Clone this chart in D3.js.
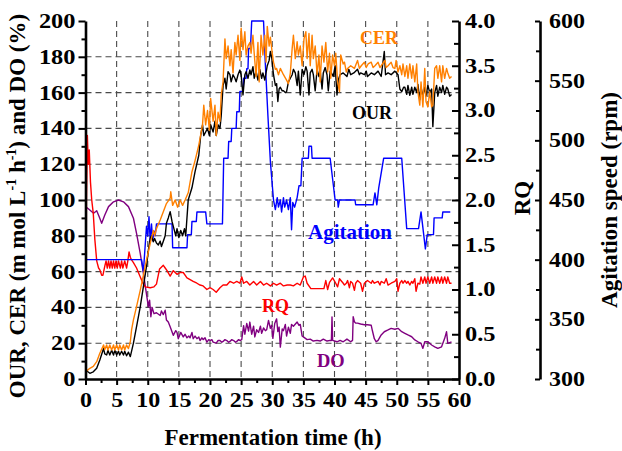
<!DOCTYPE html>
<html>
<head>
<meta charset="utf-8">
<script src="https://cdn.jsdelivr.net/npm/d3@7"></script>
<style>
  html, body { margin: 0; padding: 0; background: #fff; }
  svg { display: block; }
  text { font-family: "Liberation Serif", "Times New Roman", serif; font-weight: bold; }
</style>
</head>
<body>
<svg id="chart" width="622" height="451"></svg>
<script>
// Fermentation time (h) vs. value, one array per measured series
const cerPoints = [[0.0,4],[0.7,6],[1.25,7],[1.8,9.7],[2.3,14.4],[2.9,19],[3.1,16.5],[3.4,19],[3.6,16.2],[3.9,19],[4.2,16.2],[4.5,19],[4.7,16.2],[5.0,19],[5.3,16.2],[5.5,19],[5.8,16.2],[6.1,19],[6.3,16.2],[6.6,19],[6.9,17],[7.2,20.8],[7.4,27.4],[7.7,33],[8.2,40.4],[8.8,49.7],[9.3,58],[9.8,66.5],[10.4,75.8],[10.9,83],[11.1,80],[11.4,84],[12.0,88.8],[12.5,93.5],[13.0,98],[13.6,101],[13.7,104.6],[14.0,97],[14.4,100],[14.8,96],[15.2,100],[15.6,97],[16.0,100],[16.5,104],[17.1,115.8],[17.6,122],[18.2,130.7],[18.8,142],[19.0,153],[19.3,142],[19.6,150],[19.9,139],[20.1,156.8],[20.5,144],[20.8,153],[21.0,136],[21.3,149],[21.6,144],[21.8,158.7],[22.1,166],[22.4,190],[22.6,179],[22.9,186],[23.2,175],[23.4,184],[23.7,171],[24.0,188],[24.2,181],[24.5,192],[24.8,178],[25.0,196],[25.3,184],[25.6,194],[25.8,181],[26.1,186],[26.4,188],[26.6,182],[26.9,192],[27.1,182],[27.4,169],[27.7,188],[27.9,166],[28.2,192],[28.5,181],[28.8,192],[29.0,177],[29.2,197],[29.5,186],[29.7,191],[30.0,182],[30.2,177],[30.5,173],[30.7,173.5],[31.0,170],[31.3,173.5],[31.8,170],[32.3,167],[32.6,165],[32.9,170.8],[33.2,184.7],[33.4,192],[33.7,179],[34.0,188.4],[34.2,181],[34.5,186],[34.8,175],[35.1,190],[35.4,194],[35.6,179],[35.9,193],[36.1,175],[36.4,192],[36.6,179],[36.9,186],[37.2,170],[37.5,181],[37.7,166],[38.0,186],[38.3,177],[38.6,188],[38.9,171.5],[39.2,182],[39.4,168],[39.7,181],[40.0,175],[40.2,182],[40.5,166],[40.8,160.5],[41.0,181],[41.4,176],[41.6,177],[41.9,171.5],[42.1,173.5],[42.6,175],[43.2,173.5],[43.7,178],[44.0,173.5],[44.3,175],[44.8,177],[45.1,174],[45.4,176],[45.9,177],[46.2,174],[46.5,175],[47.0,177],[47.3,174],[47.5,175],[48.1,178],[48.3,174],[48.6,175],[49.1,177],[49.4,174],[49.7,173.5],[49.9,178],[50.2,171.5],[50.5,175],[50.8,170],[51.0,176],[51.3,169],[51.6,175],[51.8,168],[52.1,176],[52.4,168],[52.6,175],[52.9,166],[53.2,176],[53.4,160.5],[53.7,153],[53.9,166],[54.2,152],[54.5,173.5],[54.7,155],[55.0,152],[55.3,160.5],[55.6,152],[55.8,153],[56.1,173.5],[56.4,175],[56.6,168],[56.9,175],[57.2,166],[57.4,175],[57.7,168],[58.0,173.5],[58.2,171],[58.5,168],[58.8,169]];

const ourPoints = [[0,5],[0.7,3.2],[1.25,4],[1.8,6],[2.3,10.6],[2.9,17],[3.1,14],[3.4,13.4],[3.6,16],[3.9,13.4],[4.2,16],[4.5,13.4],[4.7,16],[5.0,13.4],[5.3,15.5],[5.5,13.4],[5.8,15.5],[6.1,13.4],[6.3,15.5],[6.6,13],[6.9,15],[7.2,12.5],[7.7,20],[8.2,29.2],[8.8,40.4],[9.3,51.6],[9.8,63],[10.1,72],[10.4,78.6],[10.6,80],[10.9,76.7],[11.1,78.5],[11.4,76],[11.7,74.9],[12.0,77],[12.2,74],[12.5,77],[12.8,80],[13.0,87],[13.3,90],[13.6,93.5],[13.9,88],[14.2,84],[14.5,80],[14.7,84],[15.0,79],[15.3,83],[15.6,80],[15.9,84],[16.1,80],[16.5,100],[17.1,106.8],[17.6,115.8],[18.2,125],[18.5,136],[18.8,142],[19.0,136],[19.3,138],[19.6,140],[19.9,136],[20.1,142],[20.5,138],[20.8,144],[21.0,136],[21.3,142],[21.6,140],[21.8,147],[22.1,164],[22.4,168],[22.6,162],[22.9,171.7],[23.2,170],[23.4,166],[23.7,170],[24.0,168],[24.2,166],[24.5,170],[24.8,172.6],[25.0,170],[25.3,158.7],[25.6,170],[25.8,171.7],[26.1,168],[26.4,172.6],[26.6,170],[26.9,174.5],[27.1,168],[27.4,172],[27.7,167],[28.0,173],[28.3,168],[28.5,171],[28.8,167],[29.2,175],[29.5,178],[29.7,183],[29.9,180],[30.2,170],[30.5,164],[30.7,165],[30.9,155],[31.1,162],[31.3,163],[31.6,161],[31.8,161],[32.1,160],[32.3,160.5],[32.6,166],[32.9,168],[33.2,170],[33.4,173],[33.7,171],[34.0,164],[34.2,172],[34.5,158.7],[34.8,173],[35.1,170],[35.4,174.5],[35.6,172],[35.9,158.7],[36.1,171],[36.4,173],[36.6,170],[36.9,161],[37.2,173],[37.5,169],[37.7,172],[38.0,162],[38.2,171],[38.5,174],[38.8,170],[39.0,161],[39.3,172],[39.5,171],[39.8,169],[40.1,175],[40.4,158.7],[40.6,167],[40.9,170],[41.4,171],[42.0,169],[42.3,173],[42.6,170],[43.1,171],[43.7,173],[44.0,170],[44.2,171],[44.8,170],[45.1,172],[45.3,169],[45.9,171],[46.4,170],[47.0,172],[47.5,169],[48.0,183],[48.2,170],[48.6,171],[49.1,170],[49.7,172],[50.2,170],[50.5,162],[50.8,160.5],[51.1,163],[51.3,163],[51.6,159],[51.8,164],[52.1,158.5],[52.4,163],[52.6,159],[52.9,163],[53.2,160],[53.4,164.6],[53.7,156],[53.9,163],[54.2,158],[54.5,163],[54.7,158],[55.0,164],[55.3,160],[55.6,162],[55.8,141],[56.1,160],[56.4,164],[56.6,158],[56.9,163],[57.2,160],[57.4,164],[57.7,159],[58.0,163],[58.2,162],[58.5,158],[58.8,159]];

// respiratory quotient (dimensionless)
const rqPoints = [[0.05,0],[0.15,2.0],[0.3,2.72],[0.45,2.4],[0.6,2.56],[0.8,2.2],[1.0,2.0],[1.25,1.85],[1.5,1.56],[1.8,1.32],[2.1,1.24],[2.3,1.22],[2.6,1.16],[2.8,1.16],[3.1,1.26],[3.3,1.32],[3.5,1.24],[3.7,1.32],[3.9,1.24],[4.1,1.32],[4.3,1.24],[4.5,1.32],[4.7,1.24],[4.9,1.32],[5.1,1.24],[5.3,1.32],[5.6,1.24],[5.8,1.32],[6.0,1.24],[6.3,1.32],[6.6,1.24],[6.8,1.32],[7.0,1.42],[7.2,1.36],[7.4,1.33],[7.7,1.30],[8.2,1.24],[8.8,1.14],[9.3,1.06],[9.6,1.03],[10.4,1.02],[11.0,1.03],[11.4,1.06],[11.9,1.23],[12.5,1.27],[12.8,1.24],[13.1,1.21],[13.6,1.15],[14.1,1.21],[14.7,1.17],[15.2,1.19],[15.7,1.19],[16.3,1.13],[16.8,1.11],[17.3,1.09],[17.9,1.07],[18.4,1.05],[18.9,1.04],[19.5,1.00],[20.0,1.02],[20.5,1.00],[21.0,0.97],[21.6,1.02],[22.1,1.05],[22.7,1.05],[23.2,1.09],[23.8,1.07],[24.3,1.09],[24.8,1.07],[25.1,1.14],[25.4,1.07],[25.9,1.09],[26.4,1.05],[27.0,1.09],[27.5,1.05],[28.1,1.09],[28.6,1.05],[29.1,1.07],[29.7,1.04],[30.2,1.07],[30.7,1.05],[31.3,1.07],[31.8,1.04],[32.4,1.05],[32.9,1.05],[33.4,1.04],[34.0,1.07],[34.5,1.05],[35.0,1.14],[35.3,1.15],[35.6,1.07],[36.2,1.01],[38.3,1.01],[38.6,1.10],[38.9,1.00],[39.2,1.08],[39.7,1.13],[40.2,1.07],[40.5,1.03],[40.8,1.12],[41.4,1.07],[41.6,1.05],[41.9,1.07],[42.1,1.10],[42.4,1.02],[42.6,1.09],[42.9,1.07],[43.2,0.99],[43.4,1.07],[43.7,1.10],[44.2,1.07],[44.5,0.98],[44.8,1.07],[45.3,1.10],[45.9,1.07],[46.1,1.10],[46.4,1.07],[47.0,1.09],[47.3,1.05],[47.5,1.09],[48.0,1.07],[48.3,1.12],[48.6,1.05],[49.1,1.07],[49.7,1.09],[50.0,1.12],[50.2,0.98],[50.5,1.07],[50.8,1.10],[51.0,1.07],[51.3,1.10],[51.6,1.07],[51.8,1.09],[52.1,1.05],[52.4,1.09],[52.6,1.07],[52.9,1.12],[53.1,0.98],[53.4,1.07],[53.7,1.06],[53.9,1.14],[54.2,1.07],[54.5,1.14],[54.7,1.07],[55.0,1.14],[55.3,1.07],[55.6,1.14],[55.8,1.07],[56.1,1.14],[56.4,1.07],[56.6,1.14],[56.9,1.07],[57.2,1.14],[57.4,1.07],[57.7,1.14],[58.0,1.07],[58.2,1.14],[58.5,1.07],[58.8,1.07]];

// dissolved oxygen (%)
const doPoints = [[0.1,96],[0.5,95],[1.3,92.6],[1.8,94],[2.2,90.7],[2.6,87],[3.1,91.6],[3.7,96.3],[4.5,99],[5.3,100],[6.1,99],[6.9,96.3],[7.7,89.8],[8.2,81.4],[8.8,70],[9.3,59],[9.7,49.7],[10.1,40.4],[10.3,44],[10.5,34.8],[10.7,40],[11.0,36.5],[11.4,37],[12.0,35.5],[12.2,38],[12.5,36],[12.8,38.4],[13.0,33],[13.3,31.8],[13.6,29.2],[14.1,24.4],[14.5,27],[14.7,26],[14.9,22.5],[15.3,26],[15.7,23.5],[16.0,25],[16.3,23],[16.6,24],[16.8,23],[17.1,26],[17.3,22.5],[17.6,24],[17.9,22.5],[18.2,23.5],[18.4,21.5],[18.7,23],[18.9,22],[19.2,23],[19.5,20.6],[19.8,22],[20.0,21.5],[20.3,22],[20.5,20.6],[21.0,20],[21.3,21.5],[21.6,21.5],[21.9,20.5],[22.1,21],[22.4,22],[22.7,21.5],[23.0,20.5],[23.2,21],[23.5,22],[23.8,21.5],[24.1,20.5],[24.3,21],[24.6,22],[24.8,21.5],[25.1,22],[25.4,29.8],[25.6,25],[25.9,31],[26.2,26.8],[26.4,31.8],[26.7,25],[27.0,29.5],[27.2,23.5],[27.5,27.5],[27.8,26],[28.1,29.5],[28.3,25.5],[28.6,28.5],[28.9,27],[29.1,27.5],[29.4,32.7],[29.7,28.3],[29.9,30],[30.1,22.7],[30.4,31],[30.7,33.6],[30.9,26.5],[31.1,29],[31.3,17.8],[31.6,28],[31.8,27],[32.1,30.5],[32.3,24],[32.6,29],[32.9,25.5],[33.1,30.5],[33.4,29.5],[34.0,31.8],[34.3,30],[34.5,30.5],[34.8,24],[35.0,23.5],[35.6,22],[36.1,22.3],[36.6,21.2],[37.2,21.6],[37.7,21.2],[38.2,22.3],[38.8,21.2],[39.3,21.6],[39.5,21.5],[39.6,34.7],[39.7,21.6],[40.4,20.8],[40.9,21.6],[41.4,20.8],[42.0,22.3],[42.6,20.8],[42.9,21.6],[43.0,34.8],[43.2,32],[43.4,31.2],[43.7,31.2],[44.2,30.7],[44.8,30.3],[45.3,30.3],[45.9,30],[46.1,26.8],[46.4,22.5],[46.7,20.8],[47.0,21.6],[47.5,24.6],[48.0,26.4],[48.6,27.4],[49.1,28.3],[49.7,27.8],[50.2,28.3],[50.8,26.4],[51.3,25.5],[51.8,24.6],[52.4,23.6],[52.9,21.8],[53.4,20.8],[53.9,19.9],[54.2,17.1],[54.5,20.8],[55.0,20.8],[55.6,19],[56.1,18],[56.6,17.1],[57.2,18],[57.7,22.7],[58.0,26.4],[58.2,19.9],[58.8,20.8]];

// agitation speed (rpm)
const agitationPoints = [[0,400],[9.0,400],[9.3,390],[9.8,428],[10.0,420],[10.2,436],[10.4,415],[10.6,430],[10.8,416],[11.0,424],[11.2,420],[11.4,430],[13.9,430],[14.0,410],[16.3,410],[16.4,421],[17.0,421],[17.1,432],[17.8,432],[17.9,440],[19.3,440],[19.5,430],[22.0,430],[22.2,485],[22.9,485],[23.0,499],[23.4,499],[23.5,510],[24.2,510],[24.3,524],[24.7,524],[24.8,541],[25.3,541],[25.4,552],[25.8,552],[25.9,560],[26.1,560],[26.2,577],[26.5,577],[26.7,600],[28.6,600],[28.9,563],[29.3,521],[29.7,482],[30.2,450],[30.5,442],[30.8,452],[31.0,444],[31.3,450],[31.5,440],[31.8,452],[32.0,444],[32.3,450],[32.6,442],[32.9,452],[33.1,425],[33.3,448],[33.6,444],[34.0,452],[34.3,462],[34.6,462],[34.8,485],[35.8,485],[35.9,495],[36.3,495],[36.4,485],[39.3,485],[40.1,450],[40.5,450],[40.6,444],[40.8,450],[43.3,450],[43.4,446],[46.2,446],[46.5,456],[46.8,446],[47.1,460],[47.9,485],[50.8,485],[51.6,426],[53.5,426],[53.9,440],[54.6,409],[54.9,421],[55.9,421],[56.0,435],[57.3,435],[57.4,440],[58.6,440]];

// axis ticks
const timeTicks = d3.range(0, 61, 5);
const timeMinor = d3.range(2.5, 60, 5);
const leftTicks = d3.range(0, 201, 20);
const leftMinor = d3.range(10, 200, 20);
const rqTicks = d3.range(0, 4.01, 0.5);
const rqMinor = d3.range(0.25, 4, 0.5);
const rpmTicks = d3.range(300, 601, 50);
const rpmMinor = d3.range(325, 600, 50);

const colors = { cer: "#ff8000", our: "#000000", rq: "#ff0000", do: "#800080", agitation: "#0000ff" };

const svg = d3.select("#chart");
const x = d3.scaleLinear([0, 60], [85.5, 459]);
const yLeft = d3.scaleLinear([0, 200], [379, 21]);
const yRQ = d3.scaleLinear([0, 4], [379, 21]);
const yRpm = d3.scaleLinear([300, 600], [379, 21]);

// dashed grid
const grid = svg.append("g").attr("stroke", "#4a4a4a").attr("stroke-width", 1.1).attr("stroke-dasharray", "6,4");
grid.selectAll("line.v").data(timeTicks.slice(1, -1)).join("line")
  .attr("x1", d => x(d)).attr("x2", d => x(d)).attr("y1", yLeft(200)).attr("y2", yLeft(0));
grid.selectAll("line.h").data(leftTicks.slice(1, -1)).join("line")
  .attr("x1", x(0)).attr("x2", x(60)).attr("y1", d => yLeft(d)).attr("y2", d => yLeft(d));

// data lines
const lineOn = (scale) => d3.line().x(d => x(d[0])).y(d => scale(d[1]));
const series = [
  [doPoints, yLeft, colors.do],
  [rqPoints, yRQ, colors.rq],
  [agitationPoints, yRpm, colors.agitation],
  [ourPoints, yLeft, colors.our],
  [cerPoints, yLeft, colors.cer]
];
series.forEach(([pts, scale, col]) => {
  svg.append("path").datum(pts).attr("fill", "none").attr("stroke", col)
    .attr("stroke-width", 1.4).attr("stroke-linejoin", "round").attr("d", lineOn(scale));
});

// widen tick labels horizontally about their anchor
function widen(g, s) {
  g.selectAll(".tick text").each(function () {
    const t = d3.select(this);
    const tx = +t.attr("x") || 0;
    t.attr("x", 0).attr("transform", `translate(${tx},0) scale(${s},1)`);
  });
}
function styleAxis(g) {
  g.select(".domain").attr("stroke-width", 2.6);
  g.selectAll(".tick line").attr("stroke-width", 2);
  g.selectAll(".tick text").attr("font-size", 20).attr("font-family", "Liberation Serif, Times New Roman, serif").attr("font-weight", "bold").attr("fill", "#000");
}
function minor(axis, pos) {
  const g = svg.append("g").attr("transform", pos).call(axis);
  g.select(".domain").remove();
  g.selectAll("text").remove();
  g.selectAll(".tick line").attr("stroke-width", 2);
}

// bottom axis
minor(d3.axisBottom(x).tickValues(timeMinor).tickSize(4), `translate(0,${yLeft(0)})`);
const gx = svg.append("g").attr("transform", `translate(0,${yLeft(0)})`)
  .call(d3.axisBottom(x).tickValues(timeTicks).tickSize(6).tickPadding(8).tickSizeOuter(0));
styleAxis(gx); widen(gx, 1.2);

// left axis
minor(d3.axisLeft(yLeft).tickValues(leftMinor).tickSize(4), `translate(${x(0)},0)`);
const gl = svg.append("g").attr("transform", `translate(${x(0)},0)`)
  .call(d3.axisLeft(yLeft).tickValues(leftTicks).tickSize(7).tickPadding(3).tickSizeOuter(0));
styleAxis(gl); widen(gl, 1.22);

// RQ axis
minor(d3.axisRight(yRQ).tickValues(rqMinor).tickSize(-5), `translate(${x(60)},0)`);
const gr = svg.append("g").attr("transform", `translate(${x(60)},0)`)
  .call(d3.axisRight(yRQ).tickValues(rqTicks).tickFormat(d3.format(".1f")).tickSize(-7).tickPadding(6).tickSizeOuter(0));
styleAxis(gr); widen(gr, 1.22);

// agitation axis
minor(d3.axisRight(yRpm).tickValues(rpmMinor).tickSize(-4), "translate(540,0)");
const ga = svg.append("g").attr("transform", "translate(540,0)")
  .call(d3.axisRight(yRpm).tickValues(rpmTicks).tickSize(-5).tickPadding(9).tickSizeOuter(0));
styleAxis(ga); widen(ga, 1.2);

// series labels
const labels = [
  ["CER", 360, 43.5, 18, colors.cer],
  ["OUR", 352, 118.5, 18, colors.our],
  ["Agitation", 308, 239, 21, colors.agitation],
  ["RQ", 262, 312, 18, colors.rq],
  ["DO", 317, 367, 18.5, colors.do]
];
labels.forEach(([txt, lx, ly, fs, col]) => {
  svg.append("text").attr("x", lx).attr("y", ly).attr("font-size", fs).attr("fill", col).text(txt);
});

// axis titles
svg.append("text").attr("x", 273).attr("y", 445).attr("text-anchor", "middle")
  .attr("font-size", 23).text("Fermentation time (h)");

const lt = svg.append("text").attr("transform", "translate(25,206) rotate(-90)")
  .attr("text-anchor", "middle").attr("font-size", 23);
lt.append("tspan").text("OUR, CER (m mol L");
lt.append("tspan").attr("font-size", 14).attr("dy", -9).text("-1");
lt.append("tspan").attr("dy", 9).text(" h");
lt.append("tspan").attr("font-size", 14).attr("dy", -9).text("-1");
lt.append("tspan").attr("dy", 9).text(") and DO (%)");

svg.append("text").attr("transform", "translate(530,198) rotate(-90)")
  .attr("text-anchor", "middle").attr("font-size", 23).text("RQ");
svg.append("text").attr("transform", "translate(617,200) rotate(-90)")
  .attr("text-anchor", "middle").attr("font-size", 23).text("Agitation speed (rpm)");
</script>
</body>
</html>
